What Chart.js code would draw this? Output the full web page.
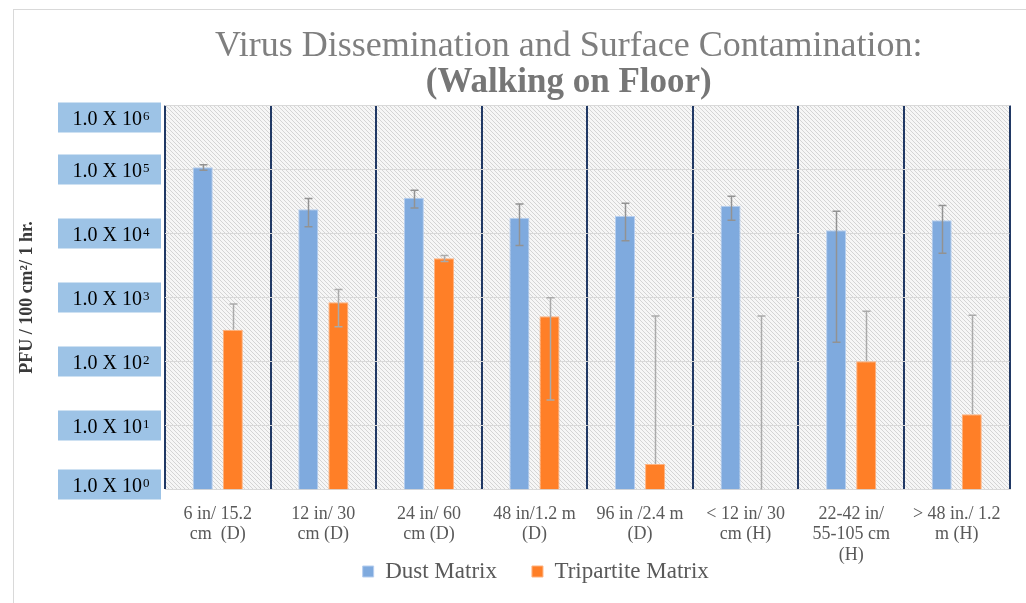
<!DOCTYPE html>
<html>
<head>
<meta charset="utf-8">
<script src="https://cdn.jsdelivr.net/npm/chart.js@4.4.1/dist/chart.umd.min.js"></script>
<style>
    html, body { margin: 0; padding: 0; background: #fff; }
    #wrap { position: relative; width: 1026px; height: 603px; }
</style>
</head>
<body>
<div id="wrap"><canvas id="virusChart"></canvas></div>
<script>
// Categories (sampling distance / height)
const categories = [
    ['6 in/ 15.2', 'cm  (D)'],
    ['12 in/ 30', 'cm (D)'],
    ['24 in/ 60', 'cm (D)'],
    ['48 in/1.2 m', '(D)'],
    ['96 in /2.4 m', '(D)'],
    ['< 12 in/ 30', 'cm (H)'],
    ['22-42 in/', '55-105 cm', '(H)'],
    ['> 48 in./ 1.2', 'm (H)']
];

// PFU / 100 cm2 / 1 hr
const dustValues = [108000, 23900, 36300, 17700, 18700, 27200, 11200, 16100];
const dustErrors = [11000, 11200, 11300, 11200, 11000, 11100, 11000, 11200];
const tripartiteValues = [314, 840, 4100, 510, 2.5, 0, 101, 15];
const tripartiteErrors = [477, 490, 440, 485, 512, 514, 507, 512];

// y tick labels: "1.0 X 10" with a superscript exponent
const yTickValues = [1, 10, 100, 1000, 10000, 100000, 1000000];
const yTickBase = '1.0 X 10';
const yTickExponents = ['0', '1', '2', '3', '4', '5', '6'];

const SERIF = "'Liberation Serif', 'Times New Roman', 'DejaVu Serif', serif";

// hatched plot background
const hatchTile = (function () {
    const c = document.createElement('canvas');
    c.width = 4; c.height = 4;
    const g = c.getContext('2d');
    const img = g.createImageData(4, 4);
    for (let y = 0; y < 4; y++) {
        for (let x = 0; x < 4; x++) {
            const i = (y * 4 + x) * 4;
            const v = ((x - y + 4) % 4 === 0) ? 212 : 246;
            img.data[i] = img.data[i + 1] = img.data[i + 2] = v;
            img.data[i + 3] = 255;
        }
    }
    g.putImageData(img, 0, 0);
    return c;
})();

const plotBackground = {
    id: 'plotBackground',
    beforeDraw(chart) {
        const { ctx, chartArea } = chart;
        ctx.save();
        // outer chart frame
        ctx.strokeStyle = '#d9d9d9';
        ctx.lineWidth = 1;
        ctx.strokeRect(13.5, 9.5, 1100, 700);
        ctx.fillStyle = ctx.createPattern(hatchTile, 'repeat');
        ctx.fillRect(chartArea.left, chartArea.top, chartArea.right - chartArea.left, chartArea.bottom - chartArea.top);
        ctx.restore();
    }
};

// error bars (minus side is dropped when it would go below zero, as on a log axis)
const errorBars = {
    id: 'errorBars',
    afterDatasetsDraw(chart) {
        const { ctx, scales: { y } } = chart;
        const errs = [dustErrors, tripartiteErrors];
        const colors = ['#929292', '#aaaaaa'];
        ctx.save();
        ctx.lineWidth = 1.5;
        chart.data.datasets.forEach((ds, d) => {
            const meta = chart.getDatasetMeta(d);
            ctx.strokeStyle = colors[d];
            meta.data.forEach((bar, i) => {
                const v = ds.data[i];
                const e = errs[d][i];
                const x = Math.round(bar.x) + 0.5;
                const yTop = y.getPixelForValue(v + e);
                let yLow = v > 0 ? y.getPixelForValue(v) : y.bottom;
                const hasLow = v - e > 0;
                if (hasLow) yLow = y.getPixelForValue(v - e);
                ctx.beginPath();
                ctx.moveTo(x, yTop);
                ctx.lineTo(x, yLow);
                ctx.moveTo(x - 4, yTop);
                ctx.lineTo(x + 4, yTop);
                if (hasLow) {
                    ctx.moveTo(x - 4, yLow);
                    ctx.lineTo(x + 4, yLow);
                }
                ctx.stroke();
            });
        });
        ctx.restore();
    }
};

// boxed y tick labels
const yTickBoxes = {
    id: 'yTickBoxes',
    afterDraw(chart) {
        const { ctx, scales: { y } } = chart;
        ctx.save();
        ctx.textAlign = 'left';
        ctx.textBaseline = 'alphabetic';
        yTickValues.forEach((v, i) => {
            let cy = y.getPixelForValue(v);
            cy = Math.min(Math.max(cy, y.top + 12), y.bottom - 5);
            ctx.fillStyle = '#9dc3e6';
            ctx.fillRect(58, cy - 15, 103, 30);

            ctx.font = '20px ' + SERIF;
            const bw = ctx.measureText(yTickBase).width;
            ctx.font = '13px ' + SERIF;
            const ew = ctx.measureText(yTickExponents[i]).width;
            const x0 = 111 - (bw + ew + 1) / 2;
            const base = cy + 7;
            ctx.fillStyle = '#000';
            ctx.font = '20px ' + SERIF;
            ctx.fillText(yTickBase, x0, base);
            ctx.font = '13px ' + SERIF;
            ctx.fillText(yTickExponents[i], x0 + bw + 1, base - 5);
        });
        ctx.restore();
    }
};

// put title block and legend where the original has them
const boxShift = {
    id: 'boxShift',
    afterLayout(chart) {
        chart.boxes.forEach(b => {
            if (b.position === 'top') {
                b.left += 64;
                b.right += 64;
            }
        });
        const lg = chart.legend;
        lg.left += 31;
        lg.right += 31;
        lg.top = 525;
        lg.bottom = lg.top + lg.height;
    }
};

new Chart(document.getElementById('virusChart'), {
    type: 'bar',
    data: {
        labels: categories,
        datasets: [
            {
                label: 'Dust Matrix',
                data: dustValues,
                backgroundColor: '#7faade',
                borderColor: '#b7cff0',
                borderWidth: 1,
                categoryPercentage: 0.57,
                barPercentage: 0.667
            },
            {
                label: 'Tripartite Matrix',
                data: tripartiteValues,
                backgroundColor: '#ff7f27',
                borderColor: '#ffb27f',
                borderWidth: 1,
                categoryPercentage: 0.57,
                barPercentage: 0.667
            }
        ]
    },
    options: {
        responsive: true,
        maintainAspectRatio: false,
        animation: false,
        layout: { padding: { top: 0, right: 16.5, bottom: -34.5, left: 0 } },
        plugins: {
            title: {
                display: true,
                text: 'Virus Dissemination and Surface Contamination:',
                color: '#7f7f7f',
                font: { family: SERIF, size: 36, weight: 'normal', lineHeight: 1 },
                padding: { top: 28.5, bottom: 0.5 }
            },
            subtitle: {
                display: true,
                text: '(Walking on Floor)',
                color: '#767676',
                font: { family: SERIF, size: 35, weight: 'bold', lineHeight: 1 },
                padding: { top: 0, bottom: 5.5 }
            },
            legend: {
                position: 'bottom',
                labels: {
                    font: { family: SERIF, size: 23 },
                    color: '#595959',
                    boxWidth: 11,
                    boxHeight: 11,
                    padding: 35
                }
            },
            tooltip: { enabled: false }
        },
        scales: {
            x: {
                grid: { color: '#203864', lineWidth: 2, drawTicks: false, offset: true },
                border: { display: true, color: '#d9d9d9', width: 1 },
                ticks: {
                    font: { family: SERIF, size: 18, lineHeight: 1.15 },
                    color: '#595959',
                    padding: 14,
                    maxRotation: 0,
                    autoSkip: false
                },
                afterFit(scale) { scale.height = 80; }
            },
            y: {
                type: 'logarithmic',
                min: 1,
                max: 1000000,
                afterBuildTicks(scale) {
                    scale.ticks = yTickValues.map(v => ({ value: v }));
                },
                afterFit(scale) { scale.width = 165; },
                grid: { color: '#d9d9d9', drawTicks: false },
                border: { display: false },
                ticks: { display: false },
                title: {
                    display: true,
                    text: 'PFU / 100 cm²/ 1 hr.',
                    color: '#3a3a3a',
                    font: { family: SERIF, size: 18, weight: 'bold' },
                    padding: { top: 17, bottom: 0 }
                }
            }
        }
    },
    plugins: [plotBackground, errorBars, yTickBoxes, boxShift]
});
</script>
</body>
</html>
